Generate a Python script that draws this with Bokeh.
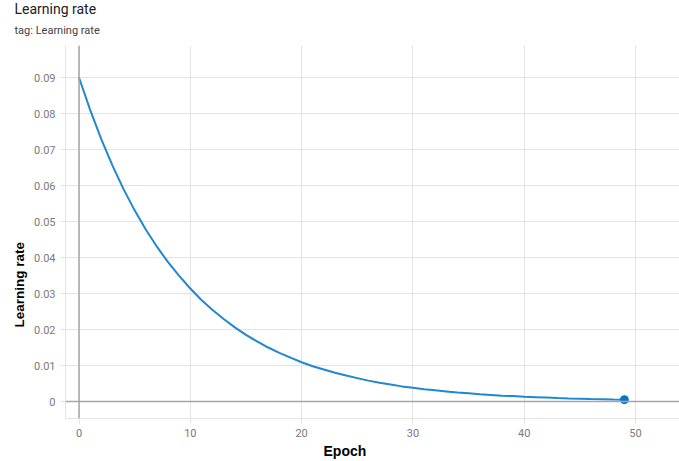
from bokeh.plotting import figure
from bokeh.models import Range1d, FixedTicker, Span, Title
from bokeh.embed import file_html
from bokeh.resources import INLINE

# Data
epochs = list(range(50))
learning_rate = [
    0.0900, 0.0810, 0.0729, 0.0656, 0.0590, 0.0531, 0.0478, 0.0430, 0.0387, 0.0349,
    0.0314, 0.0282, 0.0254, 0.0229, 0.0206, 0.0185, 0.0167, 0.0150, 0.0135, 0.0122,
    0.0109, 0.0098, 0.0089, 0.0080, 0.0072, 0.0065, 0.0058, 0.0052, 0.0047, 0.0042,
    0.0038, 0.0034, 0.0031, 0.0028, 0.0025, 0.0023, 0.0020, 0.0018, 0.0016, 0.0015,
    0.0013, 0.0012, 0.0011, 0.00097, 0.00087, 0.00079, 0.00071, 0.00064, 0.00057, 0.00052,
]
x_ticks = [0, 10, 20, 30, 40, 50]
y_ticks = [0, 0.01, 0.02, 0.03, 0.04, 0.05, 0.06, 0.07, 0.08, 0.09]
y_tick_labels = ["0", "0.01", "0.02", "0.03", "0.04", "0.05", "0.06", "0.07", "0.08", "0.09"]

FONT = "Roboto"
LABEL_FONT = "Liberation Sans"
GRID = "#e3e3e3"
ZERO = "#a6a6a6"
TICKTXT = "#7a7a7a"

p = figure(width=679, height=461, output_backend="svg", toolbar_location=None,
           x_range=Range1d(-1.213, 53.95), y_range=Range1d(-0.00472, 0.09889),
           min_border_left=65, min_border_right=0, min_border_top=45, min_border_bottom=43)
p.outline_line_color = None
p.background_fill_color = "white"

for ax in (p.xaxis[0], p.yaxis[0]):
    ax.axis_line_color = GRID
    ax.major_tick_line_color = GRID
    ax.major_tick_out = 5
    ax.major_tick_in = 0
    ax.minor_tick_line_color = None
    ax.major_label_text_font = FONT
    ax.major_label_text_font_size = "11px"
    ax.major_label_text_color = TICKTXT
    ax.major_label_standoff = 5

p.xaxis.ticker = FixedTicker(ticks=x_ticks)
p.yaxis.ticker = FixedTicker(ticks=y_ticks)
p.yaxis.major_label_overrides = {t: s for t, s in zip(y_ticks, y_tick_labels)}

p.xgrid.ticker = FixedTicker(ticks=x_ticks)
p.ygrid.ticker = FixedTicker(ticks=y_ticks)
p.xgrid.grid_line_color = GRID
p.ygrid.grid_line_color = GRID

p.add_layout(Span(location=0, dimension="height", line_color=ZERO, line_width=1.5))
p.add_layout(Span(location=0, dimension="width", line_color=ZERO, line_width=1.5))

p.line(epochs, learning_rate, line_color="#1f88d0", line_width=2)
p.scatter([epochs[-1]], [learning_rate[-1]], size=8, fill_color="#0b73c4", line_color="#0b73c4")

# titles (closest to frame first)
p.add_layout(Title(text="tag: Learning rate", align="left", offset=-51, standoff=17,
                   text_font=FONT, text_font_size="11px", text_font_style="normal",
                   text_color="#424242"), "above")
p.add_layout(Title(text="Learning rate", align="left", offset=-51, standoff=-6,
                   text_font=FONT, text_font_size="14px", text_font_style="normal",
                   text_color="#212121"), "above")
p.add_layout(Title(text="Learning rate", align="left", offset=91, standoff=9,
                   text_font=LABEL_FONT, text_font_size="13.5px", text_font_style="bold",
                   text_color="#000000"), "left")
p.add_layout(Title(text="Epoch", align="left", offset=258, standoff=2,
                   text_font=LABEL_FONT, text_font_size="14px", text_font_style="bold",
                   text_color="#000000"), "below")

open("out.html", "w").write(file_html(p, INLINE))
